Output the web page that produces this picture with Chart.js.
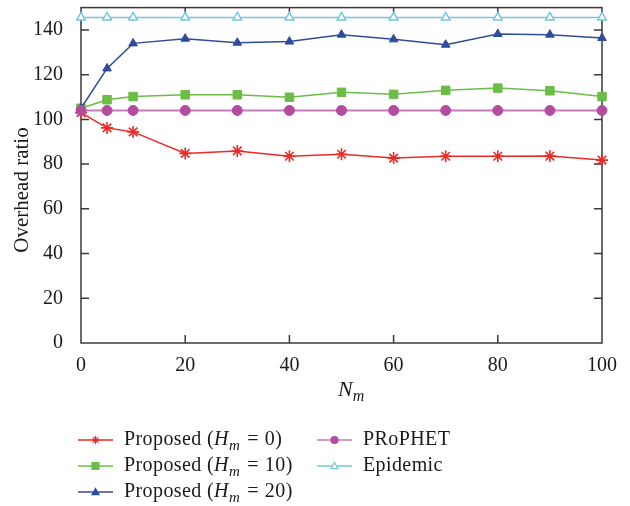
<!DOCTYPE html>
<html>
<head>
<meta charset="utf-8">
<script src="https://cdn.jsdelivr.net/npm/chart.js"></script>
<style>
  body { margin: 0; background: #fff; }
  #wrap { width: 630px; height: 506px; position: relative; }
</style>
</head>
<body>
<div id="wrap"><canvas id="myChart"></canvas></div>
<script>
// Values
const nmValues = [0, 5, 10, 20, 30, 40, 50, 60, 70, 80, 90, 100];
const proposedH0 = [103, 96.2, 94.4, 84.8, 85.9, 83.5, 84.4, 82.7, 83.5, 83.5, 83.6, 81.8];
const proposedH10 = [105, 108.8, 110.2, 111, 111, 109.9, 112.1, 111.2, 113, 114, 112.8, 110.2];
const proposedH20 = [105, 122.8, 134, 136.1, 134.3, 134.8, 137.9, 135.8, 133.4, 138.2, 137.9, 136.4];
const prophet = [104, 104, 104, 104, 104, 104, 104, 104, 104, 104, 104, 104];
const epidemic = [145.6, 145.6, 145.6, 145.6, 145.6, 145.6, 145.6, 145.6, 145.6, 145.6, 145.6, 145.6];

const xTicks = [0, 20, 40, 60, 80, 100];
const yTicks = [0, 20, 40, 60, 80, 100, 120, 140];

const FONT = "'Liberation Serif', 'DejaVu Serif', serif";

//helper para armar puntos {x,y}
function pts(arr) {
    return arr.map((v, i) => ({ x: nmValues[i], y: v }));
}

const data = {
    datasets: [{
        label: 'Epidemic', sub: null,
        data: pts(epidemic),
        borderColor: '#72c8d5', backgroundColor: '#ffffff',
        pointStyle: 'triangle', pointRadius: 5, pointBorderWidth: 1.5,
        borderWidth: 1.5
    }, {
        label: 'PRoPHET', sub: null,
        data: pts(prophet),
        borderColor: '#c47cb9', pointBorderColor: '#b24c9e', backgroundColor: '#b24c9e',
        pointStyle: 'circle', pointRadius: 5, pointBorderWidth: 1,
        borderWidth: 2
    }, {
        label: 'Proposed', sub: '20',
        data: pts(proposedH20),
        borderColor: '#2f4b9d', backgroundColor: '#2f4b9d',
        pointStyle: 'triangle', pointRadius: 5, pointBorderWidth: 1,
        borderWidth: 1.5
    }, {
        label: 'Proposed', sub: '10',
        data: pts(proposedH10),
        borderColor: '#6cbd45', backgroundColor: '#6cbd45',
        pointStyle: 'rect', pointRadius: 6, pointBorderWidth: 1,
        borderWidth: 1.5
    }, {
        label: 'Proposed', sub: '0',
        data: pts(proposedH0),
        borderColor: '#ec2a26', backgroundColor: '#ec2a26',
        pointStyle: 'star', pointRadius: 6, pointBorderWidth: 1.6,
        borderWidth: 1.5
    }]
};
data.datasets.forEach(d => { d.clip = false; d.tension = 0; });

// marcador para la leyenda
function marker(ctx, ds, x, y, r) {
    ctx.save();
    ctx.fillStyle = ds.backgroundColor;
    ctx.strokeStyle = ds.pointBorderColor || ds.borderColor;
    ctx.lineWidth = 1.2;
    ctx.beginPath();
    if (ds.pointStyle === 'circle') {
        ctx.arc(x, y, r, 0, Math.PI * 2);
        ctx.fill(); ctx.stroke();
    } else if (ds.pointStyle === 'rect') {
        ctx.rect(x - r, y - r, 2 * r, 2 * r);
        ctx.fill(); ctx.stroke();
    } else if (ds.pointStyle === 'triangle') {
        ctx.moveTo(x, y - r);
        ctx.lineTo(x + r, y + r * 0.75);
        ctx.lineTo(x - r, y + r * 0.75);
        ctx.closePath();
        ctx.fill(); ctx.stroke();
    } else {
        for (let k = 0; k < 4; k++) {
            const a = k * Math.PI / 4;
            ctx.moveTo(x - r * Math.cos(a), y - r * Math.sin(a));
            ctx.lineTo(x + r * Math.cos(a), y + r * Math.sin(a));
        }
        ctx.stroke();
    }
    ctx.restore();
}

const framePlugin = {
    id: 'frame',
    beforeDatasetsDraw(chart) {
        const { ctx, chartArea: a, scales } = chart;
        ctx.save();
        ctx.strokeStyle = '#3a3a3a';
        ctx.lineWidth = 1.5;
        ctx.strokeRect(a.left, a.top, a.right - a.left, a.bottom - a.top);
        ctx.beginPath();
        yTicks.forEach(v => {
            if (v === 0) return;
            const y = scales.y.getPixelForValue(v);
            ctx.moveTo(a.left, y); ctx.lineTo(a.left + 8, y);
            ctx.moveTo(a.right, y); ctx.lineTo(a.right - 8, y);
        });
        xTicks.forEach(v => {
            if (v === 0 || v === 100) return;
            const x = scales.x.getPixelForValue(v);
            ctx.moveTo(x, a.bottom); ctx.lineTo(x, a.bottom - 8);
            ctx.moveTo(x, a.top); ctx.lineTo(x, a.top + 8);
        });
        ctx.stroke();
        ctx.restore();
    },
    afterDraw(chart) {
        const { ctx } = chart;
        ctx.save();
        ctx.fillStyle = '#1a1a1a';
        ctx.textBaseline = 'middle';

        //Titulo eje Y
        ctx.save();
        ctx.translate(22, 190);
        ctx.rotate(-Math.PI / 2);
        ctx.textAlign = 'center';
        ctx.font = '21px ' + FONT;
        ctx.fillText('Overhead ratio', 0, 0);
        ctx.restore();

        //Titulo eje X: N_m
        ctx.textAlign = 'left';
        ctx.font = 'italic 22px ' + FONT;
        const cx = 338;
        ctx.fillText('N', cx, 390);
        const nw = ctx.measureText('N').width;
        ctx.font = 'italic 16px ' + FONT;
        ctx.fillText('m', cx + nw, 397);

        //Leyenda en dos columnas
        const order = [4, 3, 2, 1, 0];
        const slots = [[78, 440], [78, 466], [78, 492], [317, 440], [317, 466]];
        ctx.letterSpacing = '0.4px';
        order.forEach((di, k) => {
            const ds = chart.data.datasets[di];
            const [lx, ly] = slots[k];
            ctx.save();
            ctx.strokeStyle = ds.borderColor;
            ctx.lineWidth = 1.5;
            ctx.beginPath();
            ctx.moveTo(lx, ly); ctx.lineTo(lx + 35, ly);
            ctx.stroke();
            ctx.restore();
            marker(ctx, ds, lx + 17.5, ly, ds.pointStyle === 'star' ? 4 : 3.5);

            let tx = lx + 46;
            ctx.fillStyle = '#1a1a1a';
            if (ds.sub === null) {
                ctx.font = '20px ' + FONT;
                ctx.fillText(ds.label, tx, ly);
            } else {
                ctx.font = '20px ' + FONT;
                ctx.fillText(ds.label + ' (', tx, ly);
                tx += ctx.measureText(ds.label + ' (').width;
                ctx.font = 'italic 20px ' + FONT;
                ctx.fillText('H', tx, ly);
                tx += ctx.measureText('H').width;
                ctx.font = 'italic 15px ' + FONT;
                ctx.fillText('m', tx, ly + 6);
                tx += ctx.measureText('m').width + 7;
                ctx.font = '20px ' + FONT;
                ctx.fillText('=', tx, ly);
                tx += ctx.measureText('=').width + 6;
                ctx.fillText(ds.sub + ')', tx, ly);
            }
        });
        ctx.restore();
    }
};

const config = {
    type: 'line',
    data: data,
    options: {
        responsive: true,
        maintainAspectRatio: false,
        animation: false,
        layout: { padding: { left: 0, top: 7, right: 28, bottom: 133 } },
        plugins: { legend: { display: false }, tooltip: { enabled: false } },
        scales: {
            x: {
                type: 'linear', min: 0, max: 100,
                grid: { display: false }, border: { display: false },
                afterBuildTicks: s => { s.ticks = xTicks.map(v => ({ value: v })); },
                afterFit: s => { s.height = 30; s.paddingLeft = 0; s.paddingRight = 0; },
                ticks: { font: { family: FONT, size: 20 }, color: '#1a1a1a', padding: 3, maxRotation: 0 }
            },
            y: {
                min: 0, max: 150,
                grid: { display: false }, border: { display: false },
                afterBuildTicks: s => { s.ticks = yTicks.map(v => ({ value: v })); },
                afterFit: s => { s.width = 81; s.paddingTop = 0; s.paddingBottom = 0; },
                ticks: { font: { family: FONT, size: 20 }, color: '#1a1a1a', padding: 10 }
            }
        }
    },
    plugins: [framePlugin]
};

const myChart = new Chart(document.getElementById('myChart'), config);
</script>
</body>
</html>
